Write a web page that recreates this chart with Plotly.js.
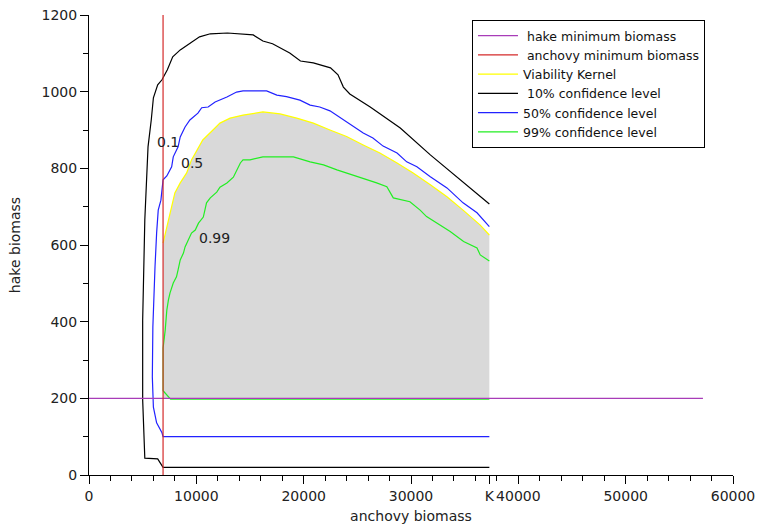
<!DOCTYPE html>
<html>
<head>
<meta charset="utf-8">
<script src="https://cdn.plot.ly/plotly-3.0.1.min.js"></script>
<style>html,body{margin:0;padding:0;background:#fff;}#chart{width:760px;height:524px;}</style>
</head>
<body>
<div id="chart"></div>
<script>
// ---- data ----
const K = 37300;              // carrying capacity marked "K" on the x axis
const anchovyMin = 6900;      // anchovy minimum biomass
const hakeMin = 200;          // hake minimum biomass
const hakeLineEnd = 57200;    // extent of the hake-minimum line
const hakeMaxAxis = 1200;

const seriesNames = ['\u00a0hake minimum biomass', '\u00a0anchovy minimum biomass', 'Viability Kernel',
                     '\u00a010% confidence level', '50% confidence level', '99% confidence level'];
const levelLabels = ['0.1', '0.5', '0.99'];
const levelLabelX = [6150, 8400, 10040];
const levelLabelY = [870, 814, 618];

const xTickVals = [0, 10000, 20000, 30000, K, 40000, 50000, 60000];
const xTickText = ['0', '10000', '20000', '30000', 'K', '40000', '50000', '60000'];

const kernelX = [6900, 7250, 7550, 8000, 8500, 9100, 9550, 10050, 10600, 11550, 12200, 13150, 14350,
                 16200, 17800, 19350, 20900, 22450, 24000, 25550, 27100, 28700, 30200, 31800, 33350,
                 34850, 36450, 37300];
const kernelY = [605, 647, 684, 736, 762, 788, 822, 848, 874, 900, 918, 931, 939,
                 947, 942, 931, 918, 900, 883, 861, 840, 814, 788, 757, 726,
                 691, 652, 626];

const conf10X = [37300, 6900, 6400, 5200, 5000, 5000, 5200, 5400, 5500, 5800, 6000, 6400, 6800, 7300,
                 7800, 8500, 9400, 10300, 11300, 12900, 15300, 16200, 17100, 18700, 19700, 20900,
                 22500, 23200, 23700, 24300, 26200, 29000, 31800, 34300, 37300];
const conf10Y = [20, 20, 42, 44, 196, 404, 665, 770, 856, 926, 984, 1018, 1031, 1057,
                 1091, 1109, 1127, 1143, 1151, 1153, 1148, 1132, 1125, 1101, 1080, 1075,
                 1062, 1044, 1012, 994, 960, 905, 835, 777, 707];

const conf50X = [37300, 6900, 6800, 6300, 6000, 5900, 5950, 6050, 6150, 6300, 6450, 6700, 6900, 7250,
                 7700, 7850, 8300, 8500, 8950, 9400, 10150, 10500, 11100, 11750, 12850, 13750, 14350,
                 16550, 17500, 18400, 19650, 20600, 21500, 22450, 24600, 25550, 26450, 27400, 28700,
                 29600, 30550, 31800, 33350, 34850, 36150, 37300];
const conf50Y = [100, 100, 110, 136, 177, 256, 386, 475, 543, 631, 691, 717, 770, 780,
                 804, 830, 856, 882, 908, 926, 944, 958, 960, 973, 986, 999, 1002,
                 1002, 991, 987, 978, 965, 960, 950, 909, 892, 879, 858, 840,
                 817, 804, 778, 749, 710, 684, 648];

const conf99X = [37300, 7600, 6900, 6900, 7100, 7250, 7400, 7550, 7850, 8150, 8300, 8500, 8800, 8950,
                 9250, 9550, 9900, 10200, 10650, 10950, 11300, 11900, 12200, 12850, 13450, 13750,
                 14100, 14350, 15000, 16200, 16550, 19050, 20600, 21850, 23100, 24300, 25550, 26800,
                 27750, 28050, 28350, 29900, 30850, 31450, 32400, 33650, 34900, 36150, 36450, 37300];
const conf99Y = [198, 198, 220, 331, 378, 430, 457, 475, 501, 517, 535, 561, 579, 595,
                 613, 631, 639, 657, 673, 710, 723, 738, 751, 762, 777, 796,
                 814, 822, 822, 830, 830, 830, 817, 809, 796, 785, 775, 762,
                 752, 736, 723, 713, 691, 674, 657, 635, 609, 592, 574, 558];

// ---- traces ----
const lw = 1.2;
const traces = [
  { // grey viability kernel area (above the hake minimum)
    x: kernelX.concat([K, anchovyMin]),
    y: kernelY.concat([hakeMin, hakeMin]),
    mode: 'lines', fill: 'toself', fillcolor: '#d9d9d9',
    line: {width: 0, color: 'rgba(0,0,0,0)'}, showlegend: false, hoverinfo: 'skip'
  },
  {x: kernelX, y: kernelY, name: seriesNames[2], mode: 'lines', line: {color: '#ffff00', width: lw}, legendrank: 3},
  {x: conf10X, y: conf10Y, name: seriesNames[3], mode: 'lines', line: {color: '#000000', width: lw}, legendrank: 4},
  {x: conf50X, y: conf50Y, name: seriesNames[4], mode: 'lines', line: {color: '#2222ff', width: lw}, legendrank: 5},
  {x: conf99X, y: conf99Y, name: seriesNames[5], mode: 'lines', line: {color: '#22ee22', width: lw}, legendrank: 6},
  {x: [0, hakeLineEnd], y: [hakeMin, hakeMin], name: seriesNames[0], mode: 'lines', line: {color: '#a83cb8', width: lw}, legendrank: 1},
  {x: [anchovyMin, anchovyMin], y: [0, hakeMaxAxis], name: seriesNames[1], mode: 'lines', line: {color: '#d42a2a', width: lw}, legendrank: 2}
];

const fontFam = 'DejaVu Sans, sans-serif';
const annotations = levelLabels.map((t, i) => ({
  x: levelLabelX[i], y: levelLabelY[i], xref: 'x', yref: 'y', text: t, showarrow: false,
  xanchor: 'left', yanchor: 'middle', font: {family: fontFam, size: 14, color: '#222'}
}));

const layout = {
  width: 760, height: 524,
  margin: {l: 89, r: 27, t: 15, b: 49},
  paper_bgcolor: '#ffffff', plot_bgcolor: '#ffffff',
  font: {family: fontFam, size: 14, color: '#222'},
  showlegend: true,
  legend: {
    x: 0.5947, y: 0.989, xanchor: 'left', yanchor: 'top',
    bgcolor: '#ffffff', bordercolor: '#000000', borderwidth: 1,
    font: {family: fontFam, size: 12.5, color: '#111'},
    itemwidth: 40, tracegroupgap: 0
  },
  xaxis: {
    range: [0, 60000], autorange: false,
    tickmode: 'array', tickvals: xTickVals, ticktext: xTickText, tickangle: 0,
    ticks: 'outside', ticklen: 8, tickcolor: '#000', tickwidth: 1,
    minor: {tickmode: 'linear', tick0: 0, dtick: 2000, ticks: 'outside', ticklen: 5, tickcolor: '#000', tickwidth: 1},
    showline: true, linecolor: '#000', linewidth: 1,
    showgrid: false, zeroline: false,
    tickfont: {family: fontFam, size: 14, color: '#222'},
    title: {text: 'anchovy biomass', font: {family: fontFam, size: 14, color: '#222'}, standoff: 9},
    automargin: false
  },
  yaxis: {
    range: [0, 1200], autorange: false,
    tickmode: 'linear', tick0: 0, dtick: 200,
    ticks: 'outside', ticklen: 8, tickcolor: '#000', tickwidth: 1,
    minor: {tickmode: 'linear', tick0: 0, dtick: 100, ticks: 'outside', ticklen: 5, tickcolor: '#000', tickwidth: 1},
    showline: true, linecolor: '#000', linewidth: 1,
    showgrid: false, zeroline: false,
    tickfont: {family: fontFam, size: 14, color: '#222'},
    title: {text: 'hake biomass', font: {family: fontFam, size: 14, color: '#222'}, standoff: 17},
    automargin: false
  },
  annotations: annotations
};

Plotly.newPlot('chart', traces, layout, {displayModeBar: false, staticPlot: true});
</script>
</body>
</html>
